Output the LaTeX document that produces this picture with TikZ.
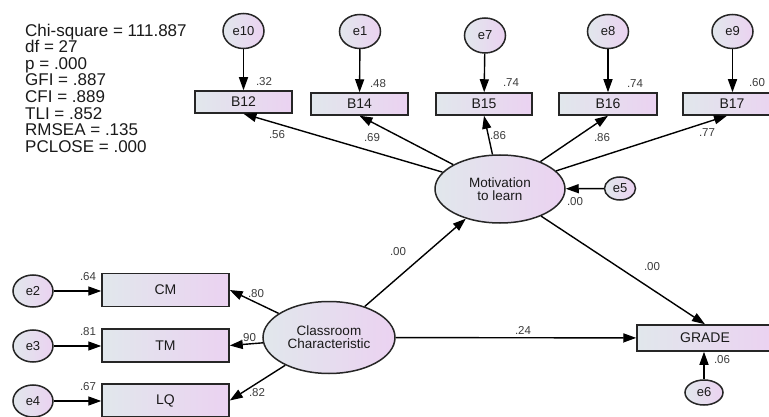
\documentclass[tikz,border=0pt]{standalone}
\usepackage{fontspec}
\setmainfont{Liberation Sans}
\usetikzlibrary{shapes.geometric,arrows.meta}
\definecolor{fillL}{HTML}{E1E7EC}
\definecolor{fillR}{HTML}{EBD2F1}
\definecolor{edge}{HTML}{262626}
\definecolor{ink}{HTML}{1A1A1A}
\tikzset{
  obsbox/.style={rectangle,draw=edge,line width=1.5pt,left color=fillL,right color=fillR,
    inner sep=0pt,font=\fontsize{14}{15}\selectfont,text=ink},
  errnode/.style={ellipse,draw=edge,line width=1.5pt,left color=fillL,right color=fillR,
    inner sep=0pt,font=\fontsize{13}{14}\selectfont,text=ink},
  latnode/.style={ellipse,draw=edge,line width=1.5pt,left color=fillL,right color=fillR,
    inner sep=0pt,align=center,font=\fontsize{13.5}{13}\selectfont,text=ink},
  vallbl/.style={inner sep=0pt,font=\fontsize{11.5}{12}\selectfont,text=ink!85},
  pathar/.style={draw=black,line width=1.4pt,-{Triangle[length=13pt,width=9pt]}},
}
\begin{document}
\begin{tikzpicture}[x=1pt,y=-1pt]
\useasboundingbox (0,0) rectangle (769,417);
\fill[white] (0,0) rectangle (769,417);

% fit statistics
\node[anchor=north west,inner sep=0pt,align=left,text=ink,
  font=\fontsize{17}{16.6}\selectfont] (fit) at (25,23.5)
  {Chi-square = 111.887\\df = 27\\p = .000\\GFI = .887\\CFI = .889\\TLI = .852\\RMSEA = .135\\PCLOSE = .000};

% observed indicators of motivation
\node[obsbox,minimum width=97pt,minimum height=22pt] (B12) at (243.5,102) {B12};
\node[obsbox,minimum width=97pt,minimum height=22pt] (B14) at (359.5,104) {B14};
\node[obsbox,minimum width=96pt,minimum height=22pt] (B15) at (484,104) {B15};
\node[obsbox,minimum width=98pt,minimum height=22pt] (B16) at (608,104) {B16};
\node[obsbox,minimum width=98pt,minimum height=22pt] (B17) at (732,104) {B17};

% error terms top
\node[errnode,minimum width=41pt,minimum height=35pt] (e10) at (243.5,31) {e10};
\node[errnode,minimum width=41pt,minimum height=34pt] (e1) at (360,31.5) {e1};
\node[errnode,minimum width=41pt,minimum height=35pt] (e7) at (485,35.5) {e7};
\node[errnode,minimum width=41pt,minimum height=34pt] (e8) at (608,31.5) {e8};
\node[errnode,minimum width=41pt,minimum height=34pt] (e9) at (732.5,31.5) {e9};

% latent variables
\node[latnode,minimum width=130pt,minimum height=68pt] (M) at (500,189) {Motivation\\to learn};
\node[latnode,minimum width=132pt,minimum height=72pt] (C) at (329,337.5) {Classroom\\Characteristic};
\node[errnode,minimum width=31pt,minimum height=23pt] (e5) at (620,188.5) {e5};

% outcome
\node[obsbox,minimum width=136pt,minimum height=26pt] (G) at (705,338) {GRADE};
\node[errnode,minimum width=38pt,minimum height=25pt] (e6) at (704,392.5) {e6};

% classroom indicators
\node[obsbox,minimum width=127pt,minimum height=33pt] (CM) at (165.5,290) {CM};
\node[obsbox,minimum width=127pt,minimum height=33pt] (TM) at (165.5,345.5) {TM};
\node[obsbox,minimum width=127pt,minimum height=33pt] (LQ) at (165.5,400.5) {LQ};
\node[errnode,minimum width=40pt,minimum height=32pt] (e2) at (33,291) {e2};
\node[errnode,minimum width=40pt,minimum height=32pt] (e3) at (33,346) {e3};
\node[errnode,minimum width=40pt,minimum height=32pt] (e4) at (33,401) {e4};

% arrows: errors
\draw[pathar] (e10) -- (B12);
\draw[pathar] (e1) -- (B14);
\draw[pathar] (e7) -- (B15);
\draw[pathar] (e8) -- (B16);
\draw[pathar] (e9) -- (B17.north -| e9);
\draw[pathar] (e5) -- (M);
\draw[pathar] (e6) -- (G.south -| e6);
\draw[pathar] (e2) -- (CM.west |- e2);
\draw[pathar] (e3) -- (TM.west |- e3);
\draw[pathar] (e4) -- (LQ.west |- e4);

% loadings
\draw[pathar] (M) -- (B12.south);
\draw[pathar] (M) -- (B14.south);
\draw[pathar] (M) -- (B15.south);
\draw[pathar] (M) -- (B16.south);
\draw[pathar] (M) -- ([xshift=-5pt]B17.south);
\draw[pathar] (C) -- (CM.east);
\draw[pathar] (C) -- (TM.east);
\draw[pathar] (C) -- (LQ.east);

% structural paths
\draw[pathar] (C) -- (M);
\draw[pathar] (C) -- (G);
\draw[pathar] (M) -- (G.north);

% value labels
\node[vallbl] (r12) at (264,82) {.32};
\node[vallbl] (r14) at (378,84) {.48};
\node[vallbl] (r15) at (511,83) {.74};
\node[vallbl] (r16) at (635,84) {.74};
\node[vallbl] (r17) at (757,83) {.60};
\node[vallbl] (l12) at (277,135) {.56};
\node[vallbl] (l14) at (372,138) {.69};
\node[vallbl] (l15) at (498,136) {.86};
\node[vallbl] (l16) at (602,138) {.86};
\node[vallbl] (l17) at (707,133) {.77};
\node[vallbl] (rM) at (575,202) {.00};
\node[vallbl] (pMG) at (652,267) {.00};
\node[vallbl] (pCM) at (398,252) {.00};
\node[vallbl] (pCG) at (523,330) {.24};
\node[vallbl] (rG) at (722,360) {.06};
\node[vallbl] (rCM) at (88,277) {.64};
\node[vallbl] (rTM) at (88,332) {.81};
\node[vallbl] (rLQ) at (88,387) {.67};
\node[vallbl] (lCM) at (256,294) {.80};
\node[vallbl] (lTM) at (248,338) {.90};
\node[vallbl] (lLQ) at (257,393) {.82};
\end{tikzpicture}
\end{document}
